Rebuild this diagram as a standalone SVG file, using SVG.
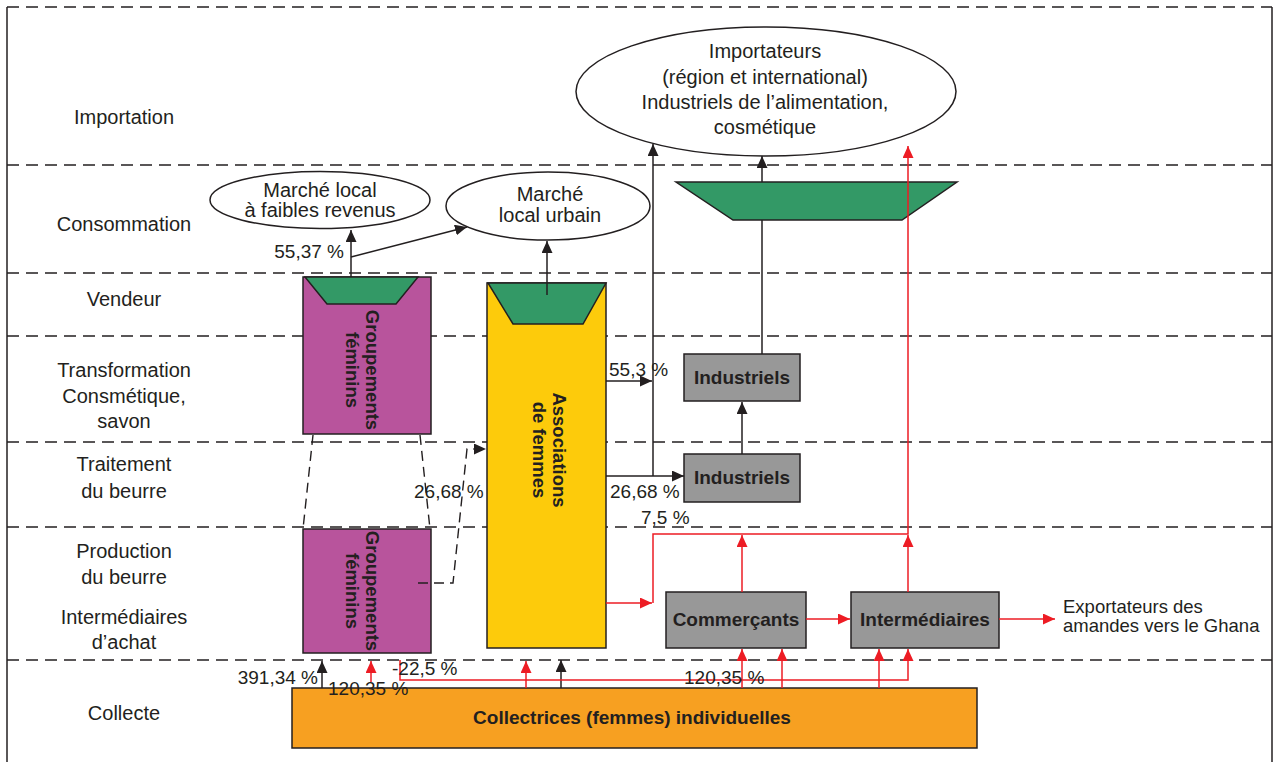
<svg xmlns="http://www.w3.org/2000/svg" width="1274" height="762" viewBox="0 0 1274 762">
<style>
text{font-family:"Liberation Sans",Arial,sans-serif;fill:#231f20}
.row{font-size:20px;text-anchor:middle}
.ell{font-size:20px;text-anchor:middle}
.pct{font-size:19px}
.bold{font-size:19px;font-weight:bold;text-anchor:middle}
.rot{font-size:18.5px;font-weight:bold;text-anchor:middle}
.dash{stroke:#231f20;stroke-width:1.4;stroke-dasharray:12 7;fill:none}
.frame{stroke:#231f20;stroke-width:1.5;fill:none}
.box{stroke:#231f20;stroke-width:1.5}
.trap{fill:#339966;stroke:#231f20;stroke-width:1.5}
.ellipse{fill:#fff;stroke:#231f20;stroke-width:1.5}
.blk{stroke:#231f20;stroke-width:1.5;fill:none}
.red{stroke:#ed1c24;stroke-width:1.5;fill:none}
.dcon{stroke:#231f20;stroke-width:1.4;stroke-dasharray:10 6;fill:none}
</style>
<defs>
<marker id="ab" markerUnits="userSpaceOnUse" markerWidth="12" markerHeight="12" refX="12" refY="5.5" orient="auto"><path d="M0,0 L12,5.5 L0,11 z" fill="#231f20"/></marker>
<marker id="ar" markerUnits="userSpaceOnUse" markerWidth="12" markerHeight="12" refX="12" refY="5.5" orient="auto"><path d="M0,0 L12,5.5 L0,11 z" fill="#ed1c24"/></marker>
</defs>
<rect width="1274" height="762" fill="#fff"/>
<g id="frame">
<line class="frame" x1="7" y1="7" x2="7" y2="762"/>
<line class="frame" x1="1272" y1="7" x2="1272" y2="762"/>
<line class="dash" x1="7" y1="7" x2="1272" y2="7"/>
<line class="dash" x1="7" y1="165" x2="1272" y2="165"/>
<line class="dash" x1="7" y1="273" x2="1272" y2="273"/>
<line class="dash" x1="7" y1="336" x2="1272" y2="336"/>
<line class="dash" x1="7" y1="442" x2="1272" y2="442"/>
<line class="dash" x1="7" y1="527" x2="1272" y2="527"/>
<line class="dash" x1="7" y1="660" x2="1272" y2="660"/>
</g>
<g id="row-labels">
<text class="row" x="124" y="124">Importation</text>
<text class="row" x="124" y="231">Consommation</text>
<text class="row" x="124" y="306">Vendeur</text>
<text class="row" x="124" y="377">Transformation</text>
<text class="row" x="124" y="403">Consmétique,</text>
<text class="row" x="124" y="428">savon</text>
<text class="row" x="124" y="471">Traitement</text>
<text class="row" x="124" y="498">du beurre</text>
<text class="row" x="124" y="558">Production</text>
<text class="row" x="124" y="584">du beurre</text>
<text class="row" x="124" y="624">Intermédiaires</text>
<text class="row" x="124" y="649">d’achat</text>
<text class="row" x="124" y="720">Collecte</text>
</g>
<g id="importateurs">
<ellipse class="ellipse" cx="766" cy="91.5" rx="190" ry="64.5"/>
<text class="ell" x="765" y="58">Importateurs</text>
<text class="ell" x="765" y="83.5">(région et international)</text>
<text class="ell" x="765" y="109">Industriels de l’alimentation,</text>
<text class="ell" x="765" y="134">cosmétique</text>
</g>
<g id="marche-faibles-revenus">
<ellipse class="ellipse" cx="320" cy="200" rx="110" ry="28.5"/>
<text class="ell" x="320" y="197">Marché local</text>
<text class="ell" x="320" y="217">à faibles revenus</text>
</g>
<g id="marche-urbain">
<ellipse class="ellipse" cx="548" cy="206" rx="102" ry="34"/>
<text class="ell" x="550" y="201">Marché</text>
<text class="ell" x="550" y="222">local urbain</text>
</g>
<g id="vendeur-export">
<polygon class="trap" points="676,182 957,182 902,220 733,220"/>
</g>
<g id="groupements-haut">
<rect class="box" x="303" y="277" width="128" height="157" fill="#b8549c"/>
<polygon class="trap" points="305,277 418,277 396,304 327,304"/>
<g transform="translate(366,370) rotate(90)"><text class="rot" x="0" y="0">Groupements</text><text class="rot" x="0" y="20">féminins</text></g>
</g>
<g id="groupements-bas">
<rect class="box" x="303" y="529" width="128" height="124" fill="#b8549c"/>
<g transform="translate(366,591) rotate(90)"><text class="rot" x="0" y="0">Groupements</text><text class="rot" x="0" y="20">féminins</text></g>
</g>
<g id="associations">
<rect class="box" x="487" y="283" width="119" height="365" fill="#fdcb0b"/>
<polygon class="trap" points="488,283 606,283 583,324 513,324"/>
<g transform="translate(553,450) rotate(90)"><text class="rot" x="0" y="0">Associations</text><text class="rot" x="0" y="20">de femmes</text></g>
</g>
<g id="industriels-transformation">
<rect class="box" x="684" y="354" width="116" height="47" fill="#989898"/>
<text class="bold" x="742" y="384">Industriels</text>
</g>
<g id="industriels-traitement">
<rect class="box" x="684" y="454" width="116" height="48" fill="#989898"/>
<text class="bold" x="742" y="484">Industriels</text>
</g>
<g id="commercants">
<rect class="box" x="666" y="592" width="140" height="56" fill="#989898"/>
<text class="bold" x="736" y="626">Commerçants</text>
</g>
<g id="intermediaires">
<rect class="box" x="851" y="592" width="148" height="56" fill="#989898"/>
<text class="bold" x="925" y="626">Intermédiaires</text>
</g>
<g id="collectrices">
<rect class="box" x="292" y="688" width="685" height="60" fill="#f7a021"/>
<text class="bold" x="632" y="724">Collectrices (femmes) individuelles</text>
</g>
<g id="exportateurs">
<text style="font-size:18.5px" x="1063" y="613">Exportateurs des</text>
<text style="font-size:18.5px" x="1063" y="632">amandes vers le Ghana</text>
</g>
<g id="connectors">
<line class="blk" x1="351" y1="277" x2="351" y2="230" marker-end="url(#ab)"/>
<line class="blk" x1="351" y1="257" x2="467" y2="227" marker-end="url(#ab)"/>
<line class="blk" x1="547" y1="295" x2="547" y2="241" marker-end="url(#ab)"/>
<line class="blk" x1="606" y1="381" x2="652" y2="381" marker-end="url(#ab)"/>
<line class="blk" x1="606" y1="476" x2="684" y2="476" marker-end="url(#ab)"/>
<line class="blk" x1="653" y1="476" x2="653" y2="144" marker-end="url(#ab)"/>
<line class="blk" x1="742" y1="454" x2="742" y2="402" marker-end="url(#ab)"/>
<line class="blk" x1="762" y1="354" x2="762" y2="220"/>
<line class="blk" x1="762" y1="182" x2="762" y2="156" marker-end="url(#ab)"/>
<line class="blk" x1="322" y1="688" x2="322" y2="661" marker-end="url(#ab)"/>
<line class="blk" x1="561" y1="688" x2="561" y2="660" marker-end="url(#ab)"/>
<line class="dcon" x1="313" y1="435" x2="303" y2="529"/>
<line class="dcon" x1="420" y1="435" x2="430" y2="529"/>
<polyline class="dcon" points="418,583 453,583 467,449 486,449" marker-end="url(#ab)"/>
<line class="red" x1="371" y1="682" x2="371" y2="661" marker-end="url(#ar)"/>
<polyline class="red" points="400,660 400,680 908,680 908,649" marker-end="url(#ar)"/>
<line class="red" x1="526" y1="688" x2="526" y2="661" marker-end="url(#ar)"/>
<line class="red" x1="742" y1="688" x2="742" y2="649" marker-end="url(#ar)"/>
<line class="red" x1="782" y1="688" x2="782" y2="649" marker-end="url(#ar)"/>
<line class="red" x1="879" y1="688" x2="879" y2="649" marker-end="url(#ar)"/>
<line class="red" x1="606" y1="603" x2="652" y2="603" marker-end="url(#ar)"/>
<polyline class="red" points="653,603 653,534 908,534 908,146" marker-end="url(#ar)"/>
<line class="red" x1="742" y1="592" x2="742" y2="535" marker-end="url(#ar)"/>
<line class="red" x1="908" y1="592" x2="908" y2="535" marker-end="url(#ar)"/>
<line class="red" x1="806" y1="619" x2="850" y2="619" marker-end="url(#ar)"/>
<line class="red" x1="999" y1="619" x2="1055" y2="619" marker-end="url(#ar)"/>
</g>
<g id="flow-labels">
<text class="pct" x="344" y="258" text-anchor="end">55,37 %</text>
<text class="pct" x="609" y="376">55,3 %</text>
<text class="pct" x="414" y="498">26,68 %</text>
<text class="pct" x="610" y="498">26,68 %</text>
<text class="pct" x="641" y="524">7,5 %</text>
<text class="pct" x="318" y="684" text-anchor="end">391,34 %</text>
<text class="pct" x="328" y="695">120,35 %</text>
<text class="pct" x="392" y="675">-22,5 %</text>
<text class="pct" x="684" y="684">120,35 %</text>
</g>
</svg>
